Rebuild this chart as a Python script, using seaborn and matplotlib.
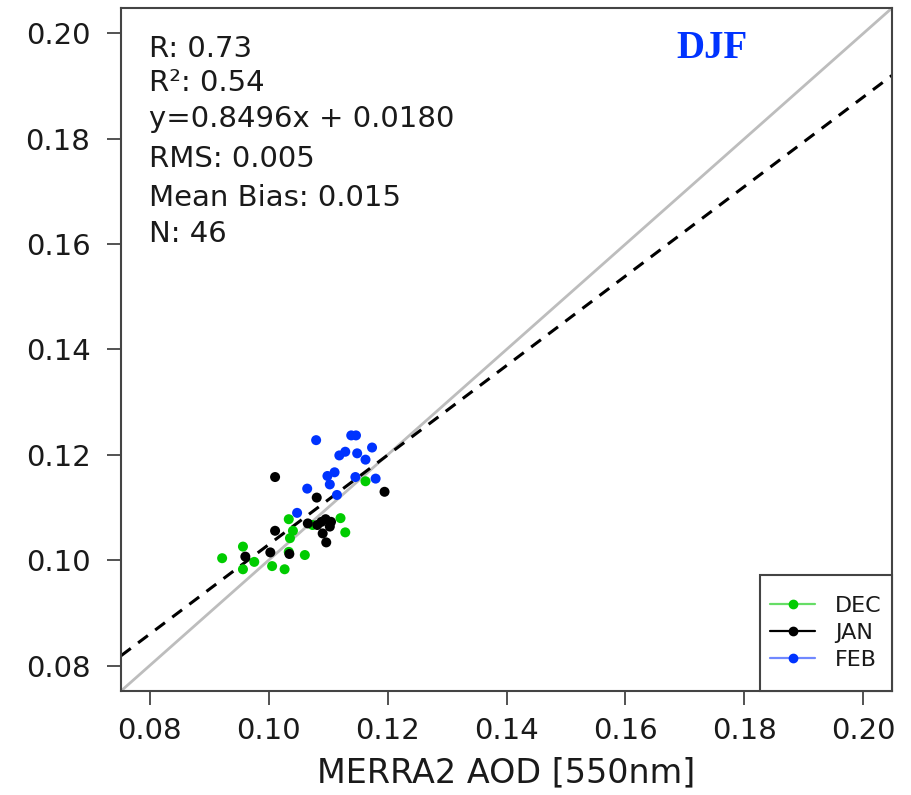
import numpy as np
import pandas as pd
import matplotlib
matplotlib.use("Agg")
import matplotlib.pyplot as plt
import seaborn as sns
from matplotlib.lines import Line2D
from matplotlib.patches import Rectangle

# ---- data ----
dec_x = [0.0922, 0.0957, 0.0976, 0.0957, 0.1006, 0.1027, 0.1061, 0.1034,
         0.1034, 0.1041, 0.1036, 0.1121, 0.1129, 0.1163, 0.1074]
dec_y = [0.1004, 0.1026, 0.0997, 0.0983, 0.0989, 0.0983, 0.1010, 0.1016,
         0.1078, 0.1056, 0.1042, 0.1080, 0.1053, 0.1150, 0.1067]
jan_x = [0.1011, 0.1195, 0.1081, 0.1011, 0.1066, 0.1089, 0.1105, 0.1103,
         0.1091, 0.1097, 0.0961, 0.1003, 0.1035, 0.1082, 0.1096]
jan_y = [0.1158, 0.1130, 0.1119, 0.1056, 0.1070, 0.1073, 0.1073, 0.1064,
         0.1051, 0.1034, 0.1007, 0.1015, 0.1012, 0.1067, 0.1078]
feb_x = [0.1080, 0.1139, 0.1147, 0.1174, 0.1129, 0.1119, 0.1149, 0.1163,
         0.1111, 0.1099, 0.1146, 0.1180, 0.1103, 0.1065, 0.1115, 0.1048]
feb_y = [0.1228, 0.1237, 0.1237, 0.1214, 0.1206, 0.1199, 0.1203, 0.1191,
         0.1167, 0.1160, 0.1158, 0.1155, 0.1144, 0.1136, 0.1124, 0.1090]
months = ["DEC", "JAN", "FEB"]
month_colors = ["#00cc00", "#000000", "#0033ff"]
legend_line_colors = ["#66dd66", "#000000", "#7088ff"]

slope, intercept = 0.8496, 0.0180
stats_lines = ["R: 0.73", "R²: 0.54", "y=0.8496x + 0.0180",
               "RMS: 0.005", "Mean Bias: 0.015", "N: 46"]
season = "DJF"
xlabel = "MERRA2 AOD [550nm]"
ticks = [0.08, 0.10, 0.12, 0.14, 0.16, 0.18, 0.20]
lims = (0.0752, 0.2048)

df = pd.DataFrame({
    "x": dec_x + jan_x + feb_x,
    "y": dec_y + jan_y + feb_y,
    "month": ["DEC"] * len(dec_x) + ["JAN"] * len(jan_x) + ["FEB"] * len(feb_x),
})

sns.set_style("white")
plt.rcParams["font.family"] = ["DejaVu Sans"]

W, H = 911, 795
L, R, T, B = 121, 892, 8, 691
fig = plt.figure(figsize=(W / 100, H / 100), dpi=100)
ax = fig.add_axes([L / W, 1 - B / H, (R - L) / W, (B - T) / H])


def ax_frac(px, py):
    return (px - L) / (R - L), (B - py) / (B - T)


# 1:1 line and regression line
ax.plot(lims, lims, color="#bdbdbd", lw=2.0, zorder=1)
xs = np.array(lims)
ax.plot(xs, slope * xs + intercept, color="black", lw=2.2,
        dashes=(4, 3), zorder=2)

sns.scatterplot(data=df, x="x", y="y", hue="month", hue_order=months,
                palette=dict(zip(months, month_colors)), s=52,
                edgecolor="none", legend=False, ax=ax, zorder=3)

ax.set_xlim(lims)
ax.set_ylim(lims)
ax.set_xticks(ticks)
ax.set_yticks(ticks)
ax.set_xticklabels([f"{t:.2f}" for t in ticks])
ax.set_yticklabels([f"{t:.2f}" for t in ticks])
ax.tick_params(axis="both", which="major", bottom=True, left=True,
               direction="out", length=10, width=1.3,
               color="#444444", labelsize=21, labelcolor="#1a1a1a")
ax.tick_params(axis="y", pad=12)
ax.tick_params(axis="x", pad=9)
for sp in ax.spines.values():
    sp.set_color("#444444")
    sp.set_linewidth(1.5)
ax.set_xlabel(xlabel, fontsize=24, color="#1a1a1a", labelpad=8)
ax.set_ylabel("")

baselines_px = [57, 91, 127, 167, 206, 242]
for txt, py in zip(stats_lines, baselines_px):
    fx, fy = ax_frac(149, py)
    ax.text(fx, fy, txt, transform=ax.transAxes, fontsize=21,
            ha="left", va="baseline", color="#1a1a1a")

fx, fy = ax_frac(712, 48)
ax.text(fx, fy, season, transform=ax.transAxes, fontsize=28,
        fontweight="bold", family=["Liberation Serif", "DejaVu Serif"],
        color="#0033ff", ha="center", va="center")

# legend box (frame drawn as its own patch, entries centred inside)
x0, y0 = ax_frac(760, 691)
x1, y1 = ax_frac(892, 575)
ax.add_patch(Rectangle((x0, y0), x1 - x0, y1 - y0, transform=ax.transAxes,
                       facecolor="white", edgecolor="#444444", lw=1.5,
                       zorder=5, clip_on=False))
handles = [Line2D([0], [0], color=lc, lw=1.6, marker="o", markersize=6,
                  markerfacecolor=mc, markeredgecolor=mc)
           for lc, mc in zip(legend_line_colors, month_colors)]
leg = ax.legend(handles, months, loc="center",
                bbox_to_anchor=((x0 + x1) / 2, (y0 + y1) / 2),
                bbox_transform=ax.transAxes, borderaxespad=0, borderpad=0,
                fontsize=16, frameon=False, handlelength=2.0,
                handletextpad=0.9, labelspacing=0.32)
leg.set_zorder(6)
for t in leg.get_texts():
    t.set_color("#1a1a1a")

fig.savefig("out.png", dpi=100)
